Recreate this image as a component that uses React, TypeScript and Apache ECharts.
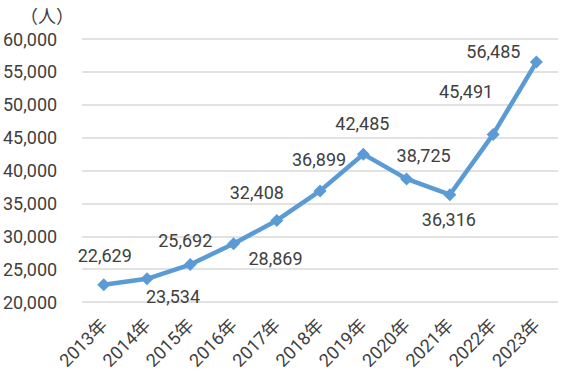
import React, { useEffect, useRef } from "react";
import * as echarts from "echarts";

const categories = ["2013年", "2014年", "2015年", "2016年", "2017年", "2018年", "2019年", "2020年", "2021年", "2022年", "2023年"];
const values = [22629, 23534, 25692, 28869, 32408, 36899, 42485, 38725, 36316, 45491, 56485];
const yTicks = { min: 20000, max: 60000, interval: 5000 };
const unitLabel = "（人）";
// label offsets (style) relative to each marker centre
const labelOffsets: [number, number][] = [
  [1, -29], [26, 18], [-5, -24], [42, 15], [-20, -28], [-1, -31],
  [-1, -31], [17, -23], [-1, 25], [-27, -43], [-43, -11],
];

const FONT = "Roboto, 'Noto Sans CJK JP', sans-serif";

export default function App() {
  const ref = useRef<HTMLDivElement>(null);
  useEffect(() => {
    if (!ref.current) return;
    const chart = echarts.init(ref.current, undefined, { renderer: "svg" });
    chart.setOption({
      animation: false,
      backgroundColor: "#ffffff",
      textStyle: { fontFamily: FONT },
      grid: { left: 82, right: 5, top: 39, bottom: 77 },
      graphic: [
        {
          type: "text",
          left: 20,
          top: 6,
          style: { text: unitLabel, fontSize: 18, fill: "#404040", fontFamily: "'Noto Sans CJK JP', sans-serif" },
        },
      ],
      xAxis: {
        type: "category",
        data: categories,
        boundaryGap: true,
        axisLine: { show: false },
        axisTick: { show: false },
        axisLabel: { rotate: 45, fontSize: 18, color: "#404040", margin: 20, fontFamily: FONT },
      },
      yAxis: {
        type: "value",
        min: yTicks.min,
        max: yTicks.max,
        interval: yTicks.interval,
        axisLine: { show: false },
        axisTick: { show: false },
        splitLine: { lineStyle: { color: "#d9d9d9", width: 1.5 } },
        axisLabel: {
          fontSize: 18,
          color: "#404040",
          margin: 25,
          fontFamily: FONT,
          formatter: (v: number) => v.toLocaleString("en-US"),
        },
      },
      series: [
        {
          type: "line",
          data: values.map((v, i) => ({
            value: v,
            label: { offset: labelOffsets[i] },
          })),
          lineStyle: { color: "#5b9bd5", width: 4.5 },
          itemStyle: { color: "#5b9bd5" },
          symbol: "diamond",
          symbolSize: 13,
          label: {
            show: true,
            position: "inside",
            fontSize: 18,
            color: "#404040",
            fontFamily: FONT,
            formatter: (p: any) => Number(p.value).toLocaleString("en-US"),
          },
        },
      ],
    });
    return () => chart.dispose();
  }, []);
  return <div ref={ref} style={{ position: "fixed", left: 0, top: 0, width: 563, height: 379 }} />;
}
